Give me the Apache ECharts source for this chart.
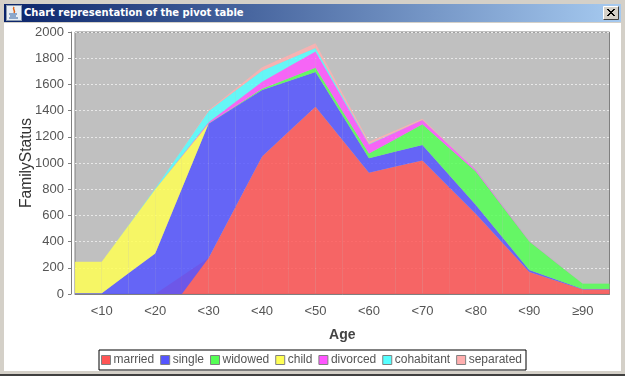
<!DOCTYPE html>
<html>
<head>
<meta charset="utf-8">
<title>Chart representation of the pivot table</title>
<script src="https://cdn.jsdelivr.net/npm/echarts@6/dist/echarts.min.js"></script>
<style>
  html, body { margin: 0; padding: 0; width: 625px; height: 376px; overflow: hidden; background: #d4d0c8; }
  #frame { position: absolute; left: 4px; top: 23px; width: 617px; height: 348px; background: #fff; }
  #titlebar {
    position: absolute; left: 4px; top: 4px; width: 617px; height: 18px;
    background: linear-gradient(to right, #0a246a, #a6caf0);
    color: #fff; font: bold 11.1px "DejaVu Sans Condensed", "DejaVu Sans", sans-serif; line-height: 18px;
  }
  #titlebar span { position: absolute; left: 20px; top: 0; white-space: nowrap; }
  #icon { position: absolute; left: 2px; top: 1px; }
  #close { position: absolute; left: 599px; top: 2px; }
  #bottom { position: absolute; left: 0; top: 374px; width: 625px; height: 2px; background: #404040; }
  #charts { position: absolute; left: 0; top: 0; width: 625px; height: 376px; }
</style>
</head>
<body>
<div id="frame"></div>
<div id="titlebar">
  <svg id="icon" width="16" height="16">
    <rect x="0.5" y="0.5" width="15" height="15" fill="#e8eef4" stroke="#8a9ab0"/>
    <path d="M8 2 C6 5 10 5 8 8" stroke="#e06010" stroke-width="1.5" fill="none"/>
    <path d="M3 9 H11 M4 11 H10 M3 13 H12" stroke="#3060a0" stroke-width="1"/>
  </svg>
  <span>Chart representation of the pivot table</span>
  <svg id="close" width="16" height="14">
    <rect x="0" y="0" width="16" height="14" fill="#d4d0c8"/>
    <path d="M0.5 13.5 V0.5 H15.5" stroke="#fff" fill="none"/>
    <path d="M0.5 13.5 H15.5 V0.5" stroke="#404040" fill="none"/>
    <path d="M4 3 L11 10 M5 3 L12 10 M11 3 L4 10 M12 3 L5 10" stroke="#000" stroke-width="1"/>
  </svg>
</div>
<div id="bottom"></div>
<div id="charts"></div>
<script>
const categories = ['<10', '<20', '<30', '<40', '<50', '<60', '<70', '<80', '<90', '≥90']
const married    = [0, 0, 275, 1050, 1430, 925, 1020, 610, 168, 35]
const single     = [6, 310, 1025, 508, 264, 112, 118, 70, 15, 4]
const widowed    = [0, 0, 2, 8, 33, 35, 157, 255, 217, 40]
const child      = [240, 490, 0, 0, 0, 0, 0, 0, 0, 0]
const divorced   = [0, 0, 10, 55, 125, 70, 33, 10, 3, 0]
const cohabitant = [0, 5, 85, 84, 26, 3, 0, 0, 0, 0]
const separated  = [0, 0, 8, 25, 36, 17, 10, 0, 0, 0]

const names = ['married', 'single', 'widowed', 'child', 'divorced', 'cohabitant', 'separated']
const values = [married, single, widowed, child, divorced, cohabitant, separated]
const colors = ['#ff5555', '#5555ff', '#55ff55', '#ffff55', '#ff55ff', '#55ffff', '#ffafaf']
const fillOpacity = 0.85

// sum of the series below, per category
function stackOf(s, i) {
  let sum = 0
  for (let k = 0; k < s; k++) sum += values[k][i]
  return sum
}

// half cell polygon: the base drops to 0 at the midpoint when either neighbour stack is 0
function halfCell(api, s, i, j, style) {
  const last = categories.length - 1
  const n = Math.max(0, Math.min(last, j))
  const st1 = stackOf(s, i)
  const st2 = stackOf(s, n)
  const top1 = st1 + values[s][i]
  const topMid = (top1 + st2 + values[s][n]) / 2
  const baseMid = (st1 === 0 || st2 === 0) ? 0 : (st1 + st2) / 2
  const half = api.size([1, 0])[0] / 2
  const dir = j < i ? -1 : 1
  const p1 = api.coord([i, top1])
  const p2 = api.coord([i, st1])
  const p3 = api.coord([i, baseMid])
  const p4 = api.coord([i, topMid])
  const xMid = p1[0] + dir * half
  return {
    type: 'polygon',
    shape: { points: [p1, p2, [xMid, p3[1]], [xMid, p4[1]]] },
    style: style
  }
}

const series = names.map((name, s) => ({
  name: name,
  type: 'custom',
  itemStyle: { color: colors[s] },
  encode: { x: 0, y: 1 },
  data: categories.map((c, i) => [i, stackOf(s, i) + values[s][i]]),
  renderItem: (params, api) => {
    const i = api.value(0)
    const style = { fill: colors[s], opacity: fillOpacity }
    return {
      type: 'group',
      children: [halfCell(api, s, i, i - 1, style), halfCell(api, s, i, i + 1, style)]
    }
  }
}))

const option = {
  animation: false,
  textStyle: { fontFamily: '"Liberation Sans", Arial, sans-serif' },
  grid: {
    left: 75, right: 15.5, top: 32, bottom: 82,
    show: true, backgroundColor: '#c0c0c0', borderColor: '#808080', borderWidth: 1
  },
  legend: {
    left: 99, top: 350,
    data: names,
    padding: [4, 4, 4, 2],
    itemWidth: 9, itemHeight: 9, itemGap: 6,
    icon: 'rect',
    backgroundColor: '#fff',
    borderColor: '#000', borderWidth: 1, borderRadius: 0,
    itemStyle: { borderColor: '#808080', borderWidth: 1 },
    textStyle: { fontSize: 12, color: '#555', padding: [0, 0, 0, -2] }
  },
  xAxis: {
    type: 'category',
    data: categories,
    offset: 4,
    name: 'Age',
    nameLocation: 'middle',
    nameGap: 30,
    nameTextStyle: { fontSize: 14, fontWeight: 'bold', color: '#444' },
    axisLine: { lineStyle: { color: '#808080' } },
    axisTick: { alignWithLabel: true, length: 3, lineStyle: { color: '#808080' } },
    axisLabel: { fontSize: 13, color: '#555', margin: 7, interval: 0 },
    splitLine: { show: false }
  },
  yAxis: {
    type: 'value',
    min: 0, max: 2000, interval: 200,
    offset: 4,
    name: 'FamilyStatus',
    nameLocation: 'middle',
    nameGap: 36,
    nameMoveOverlap: false,
    nameTextStyle: { fontSize: 15.6, color: '#333' },
    axisLine: { show: true, lineStyle: { color: '#808080' } },
    axisTick: { show: true, length: 3, lineStyle: { color: '#808080' } },
    axisLabel: { fontSize: 13, color: '#555', margin: 7, formatter: (v) => String(v) },
    splitLine: { show: true, lineStyle: { color: '#e8e8e8', type: [2, 2], width: 1 } }
  },
  series: series
}

const charts = echarts.init(document.getElementById('charts'))
charts.setOption(option)
</script>
</body>
</html>
